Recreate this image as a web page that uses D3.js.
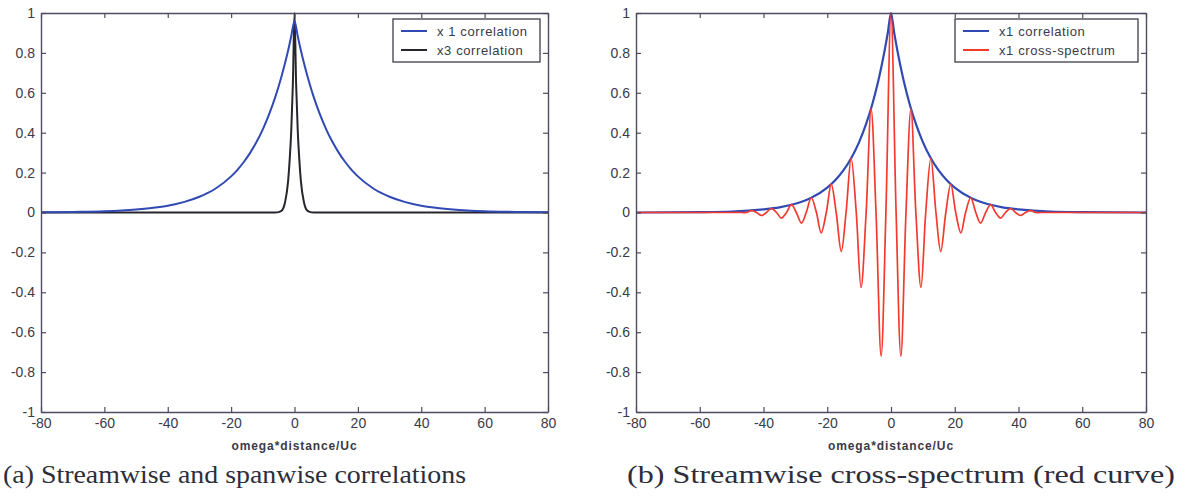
<!DOCTYPE html>
<html>
<head>
<meta charset="utf-8">
<script src="https://cdn.jsdelivr.net/npm/d3@7"></script>
<style>
  body { margin: 0; background: #fff; }
  svg { display: block; }
</style>
</head>
<body>
<div id="chart"></div>
<script>
// ticks shared by both panels
const xTicks = [-80, -60, -40, -20, 0, 20, 40, 60, 80];
const xTickLabels = ["-80", "-60", "-40", "-20", "0", "20", "40", "60", "80"];
const yTicks = [-1, -0.8, -0.6, -0.4, -0.2, 0, 0.2, 0.4, 0.6, 0.8, 1];
const yTickLabels = ["-1", "-0.8", "-0.6", "-0.4", "-0.2", "0", "0.2", "0.4", "0.6", "0.8", "1"];

// (a) x1 correlation
const corrA_x1 = [
    [-80, 0.001], [-70, 0.003], [-60, 0.006], [-50, 0.015], [-45, 0.023], [-40, 0.034],
    [-35, 0.052], [-30, 0.079], [-25, 0.119], [-20, 0.181], [-18, 0.214], [-16, 0.253],
    [-14, 0.299], [-12, 0.353], [-10, 0.417], [-8, 0.493], [-6, 0.582], [-5, 0.633],
    [-4, 0.688], [-3, 0.748], [-2, 0.813], [-1, 0.886], [0, 0.96],
    [1, 0.886], [2, 0.813], [3, 0.748], [4, 0.688], [5, 0.633], [6, 0.582], [8, 0.493],
    [10, 0.417], [12, 0.353], [14, 0.299], [16, 0.253], [18, 0.214], [20, 0.181],
    [25, 0.119], [30, 0.079], [35, 0.052], [40, 0.034], [45, 0.023], [50, 0.015],
    [60, 0.006], [70, 0.003], [80, 0.001]
];

// (a) x3 correlation
const corrA_x3 = [
    [-80, 0], [-6, 0], [-5, 0.002], [-4, 0.01], [-3, 0.05], [-2, 0.16], [-1.5, 0.27],
    [-1, 0.42], [-0.5, 0.65], [0, 1.0], [0.5, 0.65], [1, 0.42], [1.5, 0.27], [2, 0.16],
    [3, 0.05], [4, 0.01], [5, 0.002], [6, 0], [80, 0]
];

// (b) x1 correlation
const corrB_x1 = [
    [-80, 0], [-60, 0.002], [-50, 0.005], [-40, 0.016], [-35, 0.026], [-30, 0.044],
    [-25, 0.074], [-20, 0.125], [-17.5, 0.162], [-15, 0.21], [-12.5, 0.272], [-10, 0.353],
    [-8, 0.435], [-6, 0.535], [-4, 0.659], [-3, 0.732], [-2, 0.812], [-1, 0.901], [0, 1.0],
    [1, 0.901], [2, 0.812], [3, 0.732], [4, 0.659], [6, 0.535], [8, 0.435], [10, 0.353],
    [12.5, 0.272], [15, 0.21], [17.5, 0.162], [20, 0.125], [25, 0.074], [30, 0.044],
    [35, 0.026], [40, 0.016], [50, 0.005], [60, 0.002], [80, 0]
];

// (b) x1 cross-spectrum: peaks, zero crossings, troughs
const crossB_x1 = [
    [-80, 0], [-47, 0], [-45.3, 0], [-43.75, 0.011], [-42.2, 0], [-40.6, -0.015], [-39.1, 0],
    [-37.5, 0.02], [-35.9, 0], [-34.4, -0.028], [-32.8, 0], [-31.25, 0.039], [-29.7, 0],
    [-28.1, -0.053], [-26.6, 0], [-25, 0.074], [-23.4, 0], [-21.9, -0.102], [-20.3, 0],
    [-18.75, 0.142], [-17.2, 0], [-15.6, -0.196], [-14.1, 0], [-12.5, 0.272], [-10.9, 0],
    [-9.4, -0.376], [-7.8, 0], [-6.25, 0.52], [-4.7, 0], [-3.1, -0.72], [-1.6, 0],
    [0, 1.0],
    [1.6, 0], [3.1, -0.72], [4.7, 0], [6.25, 0.52], [7.8, 0], [9.4, -0.376], [10.9, 0],
    [12.5, 0.272], [14.1, 0], [15.6, -0.196], [17.2, 0], [18.75, 0.142], [20.3, 0],
    [21.9, -0.102], [23.4, 0], [25, 0.074], [26.6, 0], [28.1, -0.053], [29.7, 0],
    [31.25, 0.039], [32.8, 0], [34.4, -0.028], [35.9, 0], [37.5, 0.02], [39.1, 0],
    [40.6, -0.015], [42.2, 0], [43.75, 0.011], [45.3, 0], [47, 0], [80, 0]
];

const legendA = ["x 1 correlation", "x3 correlation"];
const legendB = ["x1 correlation", "x1 cross-spectrum"];
const captions = ["(a) Streamwise and spanwise correlations", "(b) Streamwise cross-spectrum (red curve)"];

const width = 1179, height = 503;
const blue = "#3149b3", black = "#26262c", red = "#f4392f";
const axisColor = "#4c4c62", textColor = "#3a3a48";

const svg = d3.select("#chart")
    .append("svg")
    .attr("width", width)
    .attr("height", height);

function drawPanel(box, series, legendItems, legendBox, caption) {
    const x = d3.scaleLinear().domain([-80, 80]).range([box.left, box.right]);
    const y = d3.scaleLinear().domain([-1, 1]).range([box.bottom, box.top]);
    const g = svg.append("g");

    series.forEach(s => {
        const line = d3.line()
            .x(d => x(d[0]))
            .y(d => y(d[1]))
            .curve(s.curve || d3.curveMonotoneX);
        g.append("path")
            .datum(s.data)
            .attr("fill", "none")
            .attr("stroke", s.color)
            .attr("stroke-width", s.width)
            .attr("stroke-linejoin", "round")
            .attr("d", line);
    });

    // axes, ticks pointing inward like matlab
    const bottom = g.append("g")
        .attr("transform", `translate(0,${box.bottom})`)
        .call(d3.axisBottom(x).tickValues(xTicks).tickFormat((d, i) => xTickLabels[i])
            .tickSizeInner(-5).tickSizeOuter(0).tickPadding(6));
    const left = g.append("g")
        .attr("transform", `translate(${box.left},0)`)
        .call(d3.axisLeft(y).tickValues(yTicks).tickFormat((d, i) => yTickLabels[i])
            .tickSizeInner(-5).tickSizeOuter(0).tickPadding(6));
    const top = g.append("g")
        .attr("transform", `translate(0,${box.top})`)
        .call(d3.axisTop(x).tickValues(xTicks).tickFormat("")
            .tickSizeInner(-5).tickSizeOuter(0));
    const right = g.append("g")
        .attr("transform", `translate(${box.right},0)`)
        .call(d3.axisRight(y).tickValues(yTicks).tickFormat("")
            .tickSizeInner(-5).tickSizeOuter(0));

    [bottom, left, top, right].forEach(a => {
        a.select(".domain").attr("stroke", axisColor).attr("stroke-width", 1.4);
        a.selectAll(".tick line").attr("stroke", axisColor).attr("stroke-width", 1.2);
        a.selectAll(".tick text")
            .attr("fill", textColor)
            .style("font-family", "'Liberation Sans', Arial, sans-serif")
            .style("font-size", "14px");
    });

    // x axis title
    g.append("text")
        .attr("x", (box.left + box.right) / 2)
        .attr("y", 450)
        .attr("text-anchor", "middle")
        .attr("fill", textColor)
        .style("font-family", "'Liberation Sans', Arial, sans-serif")
        .style("font-size", "12px")
        .style("font-weight", "bold")
        .style("letter-spacing", "0.9px")
        .text("omega*distance/Uc");

    // legend
    const lg = g.append("g");
    lg.append("rect")
        .attr("x", legendBox.x)
        .attr("y", legendBox.y)
        .attr("width", legendBox.w)
        .attr("height", legendBox.h)
        .attr("fill", "#fff")
        .attr("stroke", "#3c3c4a")
        .attr("stroke-width", 1.3);
    legendItems.forEach((item, i) => {
        const ly = legendBox.y + 12 + i * 19;
        lg.append("line")
            .attr("x1", legendBox.x + 8)
            .attr("x2", legendBox.x + 34)
            .attr("y1", ly)
            .attr("y2", ly)
            .attr("stroke", item.color)
            .attr("stroke-width", 2);
        lg.append("text")
            .attr("x", legendBox.x + 44)
            .attr("y", ly + 4.5)
            .attr("fill", textColor)
            .style("font-family", "'Liberation Sans', Arial, sans-serif")
            .style("font-size", "13px")
            .style("letter-spacing", "0.6px")
            .text(item.label);
    });

    // caption
    g.append("text")
        .attr("x", caption.x)
        .attr("y", 483)
        .attr("textLength", caption.len)
        .attr("lengthAdjust", "spacingAndGlyphs")
        .attr("fill", "#2e2e3a")
        .style("font-family", "'Liberation Serif', 'Times New Roman', serif")
        .style("font-size", "26px")
        .text(caption.text);
}

// black drawn first so the blue tails sit on top, as in the figure
drawPanel(
    { left: 41, right: 548, top: 13, bottom: 412 },
    [
        { data: corrA_x3, color: black, width: 2 },
        { data: corrA_x1, color: blue, width: 2 }
    ],
    [{ label: legendA[0], color: blue }, { label: legendA[1], color: black }],
    { x: 393, y: 19, w: 147, h: 43 },
    { x: 3, len: 463, text: captions[0] }
);

drawPanel(
    { left: 636, right: 1146, top: 13, bottom: 412 },
    [
        { data: corrB_x1, color: blue, width: 2.2 },
        { data: crossB_x1, color: red, width: 1.7, curve: d3.curveCatmullRom.alpha(0.5) }
    ],
    [{ label: legendB[0], color: blue }, { label: legendB[1], color: red }],
    { x: 955, y: 19, w: 183, h: 43 },
    { x: 627, len: 548, text: captions[1] }
);
</script>
</body>
</html>
